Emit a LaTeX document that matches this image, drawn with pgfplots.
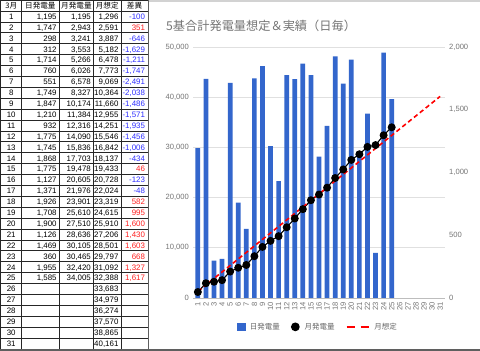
\documentclass[border=0pt]{standalone}
\usepackage{fontspec}
\setmainfont{Liberation Sans}
\newfontfamily\cjk{Noto Sans CJK JP}
\usepackage{pgfplots}
\usepackage{pgfplotstable}
\pgfplotsset{compat=1.18}
\definecolor{gblue}{HTML}{3366CC}
\definecolor{tickc}{HTML}{757575}
\definecolor{legc}{HTML}{666666}
\definecolor{gridc}{HTML}{E0E0E0}
\definecolor{basec}{HTML}{BDBDBD}
\definecolor{tb}{HTML}{2F2FFF}
\definecolor{tr}{HTML}{FF2020}
\definecolor{framec}{HTML}{5F5F5F}

\pgfplotstableread{
day daily monthly
1 1195 1195
2 1747 2943
3 298 3241
4 312 3553
5 1714 5266
6 760 6026
7 551 6578
8 1749 8327
9 1847 10174
10 1210 11384
11 932 12316
12 1775 14090
13 1745 15836
14 1868 17703
15 1775 19478
16 1127 20605
17 1371 21976
18 1926 23901
19 1708 25610
20 1900 27510
21 1126 28636
22 1469 30105
23 360 30465
24 1955 32420
25 1585 34005
}\actual

\pgfplotstableread{
day plan
1 1296
2 2591
3 3887
4 5182
5 6478
6 7773
7 9069
8 10364
9 11660
10 12955
11 14251
12 15546
13 16842
14 18137
15 19433
16 20728
17 22024
18 23319
19 24615
20 25910
21 27206
22 28501
23 29797
24 31092
25 32388
26 33683
27 34979
28 36274
29 37570
30 38865
31 40161
}\plan

\begin{document}
\begin{tikzpicture}
\useasboundingbox (0,0) rectangle (480pt,351pt);
\fill[white] (0,0) rectangle (480pt,351pt);

% ---------------- spreadsheet table ----------------
\begin{scope}[x=1pt,y=-1pt,yshift=351pt,
  tbl/.style={inner sep=0pt, font=\fontsize{7.9}{9}\selectfont},
  hdr/.style={inner sep=0pt, font=\cjk\fontsize{7.6}{9}\selectfont}]
  \foreach \xx in {0.5,21.5,59.3,93.5,121} \draw[line width=0.7pt, black!85] (\xx,0) -- (\xx,348.9);
  \draw[line width=0.7pt, black!85] (0.5,0.4) -- (148,0.4);
  \foreach \k in {0,...,30} \draw[line width=0.7pt, black!85] (0.5,{11+10.9*\k}) -- (148,{11+10.9*\k});
  \node[hdr] at (11.25,5.5) {3月};
  \node[hdr] at (40.4,5.5) {日発電量};
  \node[hdr] at (76.4,5.5) {月発電量};
  \node[hdr] at (107.25,5.5) {月想定};
  \node[hdr] at (134.5,5.5) {差異};
  \foreach \r/\dd/\mm/\ff/\df/\cc in {
    1/{1,195}/{1,195}/{1,296}/{-100}/tb,
    2/{1,747}/{2,943}/{2,591}/{351}/tr,
    3/{298}/{3,241}/{3,887}/{-646}/tb,
    4/{312}/{3,553}/{5,182}/{-1,629}/tb,
    5/{1,714}/{5,266}/{6,478}/{-1,211}/tb,
    6/{760}/{6,026}/{7,773}/{-1,747}/tb,
    7/{551}/{6,578}/{9,069}/{-2,491}/tb,
    8/{1,749}/{8,327}/{10,364}/{-2,038}/tb,
    9/{1,847}/{10,174}/{11,660}/{-1,486}/tb,
    10/{1,210}/{11,384}/{12,955}/{-1,571}/tb,
    11/{932}/{12,316}/{14,251}/{-1,935}/tb,
    12/{1,775}/{14,090}/{15,546}/{-1,456}/tb,
    13/{1,745}/{15,836}/{16,842}/{-1,006}/tb,
    14/{1,868}/{17,703}/{18,137}/{-434}/tb,
    15/{1,775}/{19,478}/{19,433}/{46}/tr,
    16/{1,127}/{20,605}/{20,728}/{-123}/tb,
    17/{1,371}/{21,976}/{22,024}/{-48}/tb,
    18/{1,926}/{23,901}/{23,319}/{582}/tr,
    19/{1,708}/{25,610}/{24,615}/{995}/tr,
    20/{1,900}/{27,510}/{25,910}/{1,600}/tr,
    21/{1,126}/{28,636}/{27,206}/{1,430}/tr,
    22/{1,469}/{30,105}/{28,501}/{1,603}/tr,
    23/{360}/{30,465}/{29,797}/{668}/tr,
    24/{1,955}/{32,420}/{31,092}/{1,327}/tr,
    25/{1,585}/{34,005}/{32,388}/{1,617}/tr,
    26/{}/{}/{33,683}/{}/tb,
    27/{}/{}/{34,979}/{}/tb,
    28/{}/{}/{36,274}/{}/tb,
    29/{}/{}/{37,570}/{}/tb,
    30/{}/{}/{38,865}/{}/tb,
    31/{}/{}/{40,161}/{}/tb}{
    \pgfmathsetmacro\yb{11+10.9*(\r-0.5)+2.9}
    \node[tbl,anchor=base] at (11.25,\yb) {\r};
    \node[tbl,anchor=base east] at (56.8,\yb) {\dd};
    \node[tbl,anchor=base east] at (91,\yb) {\mm};
    \node[tbl,anchor=base east] at (118.6,\yb) {\ff};
    \node[tbl,anchor=base east,text=\cc] at (145.2,\yb) {\df};
  }
  % chart frame lines
  \fill[gray!35] (149,0) rectangle (480,2);
  \draw[line width=1.6pt, framec] (148.6,0) -- (148.6,350);
  \draw[line width=2pt, framec] (0,349.9) -- (480,349.9);
\end{scope}

% ---------------- title ----------------
\node[anchor=west, inner sep=0pt, text=tickc, font=\cjk\fontsize{12.2}{14}\selectfont]
  at (166pt,325.5pt) {5基合計発電量想定＆実績（日毎）};

\pgfplotsset{chartgeom/.style={
  at={(193pt,53pt)}, anchor=south west, scale only axis,
  width=252pt, height=251pt, xmin=0.4, xmax=31.6,
  major tick length=0pt, axis line style={draw=none},
  tick label style={font=\fontsize{7.6}{8}\selectfont, text=tickc, inner sep=0pt},
}}

% ---------------- grid + left axis + x labels ----------------
\begin{axis}[chartgeom,
  ymin=0, ymax=50000,
  ytick={0,10000,20000,30000,40000,50000},
  ymajorgrids, grid style={color=gridc, line width=0.8pt},
  extra y ticks={0}, extra y tick labels={},
  extra y tick style={grid style={color=basec, line width=0.9pt}},
  xtick={1,...,31},
  xticklabel style={rotate=90, anchor=east},
  xticklabel shift=4pt, yticklabel shift=4pt,
  scaled y ticks=false,
  /pgf/number format/.cd, 1000 sep={,}, assume math mode=true]
\addplot[draw=none, forget plot] coordinates {(1,0)};
\end{axis}

% ---------------- bars (right axis) ----------------
\begin{axis}[chartgeom,
  ymin=0, ymax=2000, axis y line*=right, axis x line=none,
  ytick={0,500,1000,1500,2000},
  yticklabel shift=4pt,
  scaled y ticks=false,
  /pgf/number format/.cd, 1000 sep={,}, assume math mode=true]
\addplot[ybar, bar width=4.7pt, fill=gblue, draw=none] table[x=day, y=daily] {\actual};
\end{axis}

% ---------------- lines (left axis scale) ----------------
\begin{axis}[chartgeom, hide axis, ymin=0, ymax=50000,
  legend style={at={(0.492,-0.115)}, anchor=center, draw=none, fill=none,
    legend columns=3, inner sep=0pt,
    nodes={inner sep=0pt, text=legc},
    font=\cjk\fontsize{7.5}{9}\selectfont,
    /tikz/every even column/.append style={column sep=11pt},
    /tikz/every odd column/.append style={column sep=5pt}}]
\addlegendimage{legend image code/.code={\fill[gblue] (0pt,-3.8pt) rectangle (7.6pt,3.8pt);}}
\addplot[black, line width=1.1pt, mark=*, mark size=3.4pt,
  legend image code/.code={\fill[black] (3.8pt,0pt) circle (3.8pt);}]
  table[x=day, y=monthly] {\actual};
\addplot[red, line width=1.6pt, dash pattern=on 4.5pt off 3pt,
  legend image code/.code={\draw[red, line width=1.8pt, dash pattern=on 8pt off 6pt] (0pt,0pt) -- (22pt,0pt);}]
  table[x=day, y=plan] {\plan};
\legend{日発電量,月発電量,月想定}
\end{axis}
\end{tikzpicture}
\end{document}
